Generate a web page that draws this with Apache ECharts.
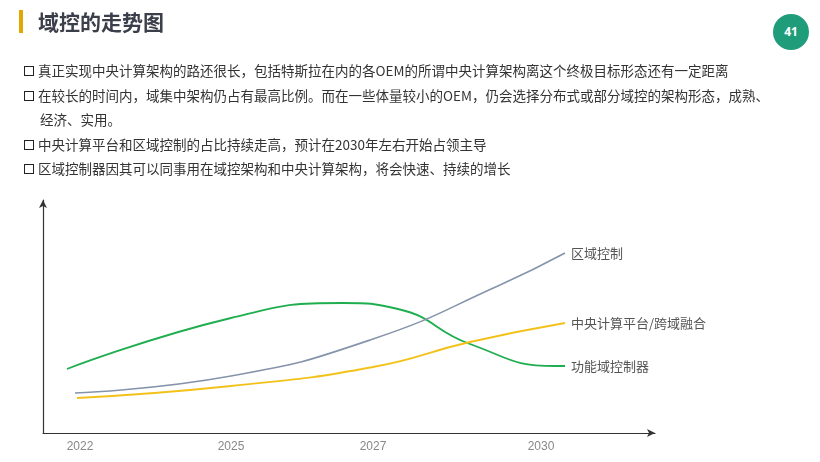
<!DOCTYPE html>
<html>
<head>
<meta charset="utf-8">
<script src="https://cdn.jsdelivr.net/npm/echarts@6/dist/echarts.min.js"></script>
<style>
  body { margin: 0; background: #fff; font-family: "Noto Sans CJK SC", sans-serif; }
  #wrap { position: relative; width: 820px; height: 462px; overflow: hidden; }
  #chart { position: absolute; left: 0; top: 0; width: 820px; height: 462px; }
  .bar { position: absolute; left: 19px; top: 10px; width: 4px; height: 23px; background: #e0a800; }
  .title { position: absolute; left: 38px; top: 6px; font-size: 21px; font-weight: bold; color: #3a3f4a; }
  .page { position: absolute; left: 773px; top: 14px; width: 36px; height: 36px; border-radius: 50%; background: #1f9d7a; color: #fff; font: bold 12px "Noto Sans"; text-align: center; line-height: 36px; }
  .txt { position: absolute; left: 24px; top: 58px; width: 770px; font-size: 13.5px; color: #333; line-height: 24.5px; }
  .txt p { margin: 0; padding-left: 16px; text-indent: -16px; }
  .box { display: inline-block; width: 8px; height: 8px; border: 1.6px solid #222; margin-right: 4px; text-indent: 0; vertical-align: 0px; }
</style>
</head>
<body>
<div id="wrap">
  <div id="chart"></div>
  <div class="bar"></div>
  <div class="title">域控的走势图</div>
  <div class="page">41</div>
  <div class="txt">
    <p><span class="box"></span>真正实现中央计算架构的路还很长，包括特斯拉在内的各OEM的所谓中央计算架构离这个终极目标形态还有一定距离</p>
    <p><span class="box"></span>在较长的时间内，域集中架构仍占有最高比例。而在一些体量较小的OEM，仍会选择分布式或部分域控的架构形态，成熟、<br>经济、实用。</p>
    <p><span class="box"></span>中央计算平台和区域控制的占比持续走高，预计在2030年左右开始占领主导</p>
    <p><span class="box"></span>区域控制器因其可以同事用在域控架构和中央计算架构，将会快速、持续的增长</p>
  </div>
</div>
<script>
// 横轴是时间位置（非等距年份），刻度标签放在对应位置
var yearLabels = ["2022", "2025", "2027", "2030"];
var yearPos = [37, 188, 330, 498];

// 三条趋势线 [位置, 相对高度]
var funcDomain = [[24, 64], [188, 115], [300, 130], [355, 124], [427, 89], [512, 67], [522, 67]];
var zoneCtrl = [[32, 40], [188, 57], [330, 94], [457, 148], [522, 180]];
var central = [[34, 35], [188, 47], [330, 66], [427, 91], [522, 110]];

(function () {
    var myChart = echarts.init(document.getElementById("chart"));
    var lbl = function () {
        return { show: true, formatter: "{a}", color: "#555", fontSize: 13, distance: 6, fontFamily: "Noto Sans CJK SC" };
    };
    var option = {
        animation: false,
        grid: { left: 43, right: 165, top: 200, bottom: 29 },
        xAxis: {
            type: "value",
            min: 0,
            max: 612,
            splitLine: { show: false },
            axisLine: { lineStyle: { color: "#333", width: 1.2 }, symbol: ["none", "arrow"], symbolSize: [6, 8] },
            axisTick: { show: false },
            axisLabel: {
                customValues: yearPos,
                color: "#888",
                fontSize: 12,
                margin: 8,
                formatter: function (v) { return yearLabels[yearPos.indexOf(v)]; }
            }
        },
        yAxis: {
            type: "value",
            min: 0,
            max: 233,
            splitLine: { show: false },
            axisLine: { show: true, lineStyle: { color: "#333", width: 1.2 }, symbol: ["none", "arrow"], symbolSize: [6, 8] },
            axisTick: { show: false },
            axisLabel: { show: false }
        },
        series: [
            { name: "功能域控制器", type: "line", smooth: 0.5, showSymbol: false, data: funcDomain,
              lineStyle: { color: "#1fae4f", width: 1.8 }, itemStyle: { color: "#1fae4f" }, endLabel: lbl() },
            { name: "区域控制", type: "line", smooth: 0.5, showSymbol: false, data: zoneCtrl,
              lineStyle: { color: "#8594aa", width: 1.6 }, itemStyle: { color: "#8594aa" }, endLabel: lbl() },
            { name: "中央计算平台/跨域融合", type: "line", smooth: 0.5, showSymbol: false, data: central,
              lineStyle: { color: "#f2c21b", width: 1.8 }, itemStyle: { color: "#f2c21b" }, endLabel: lbl() }
        ]
    };
    myChart.setOption(option);
})();
</script>
</body>
</html>
